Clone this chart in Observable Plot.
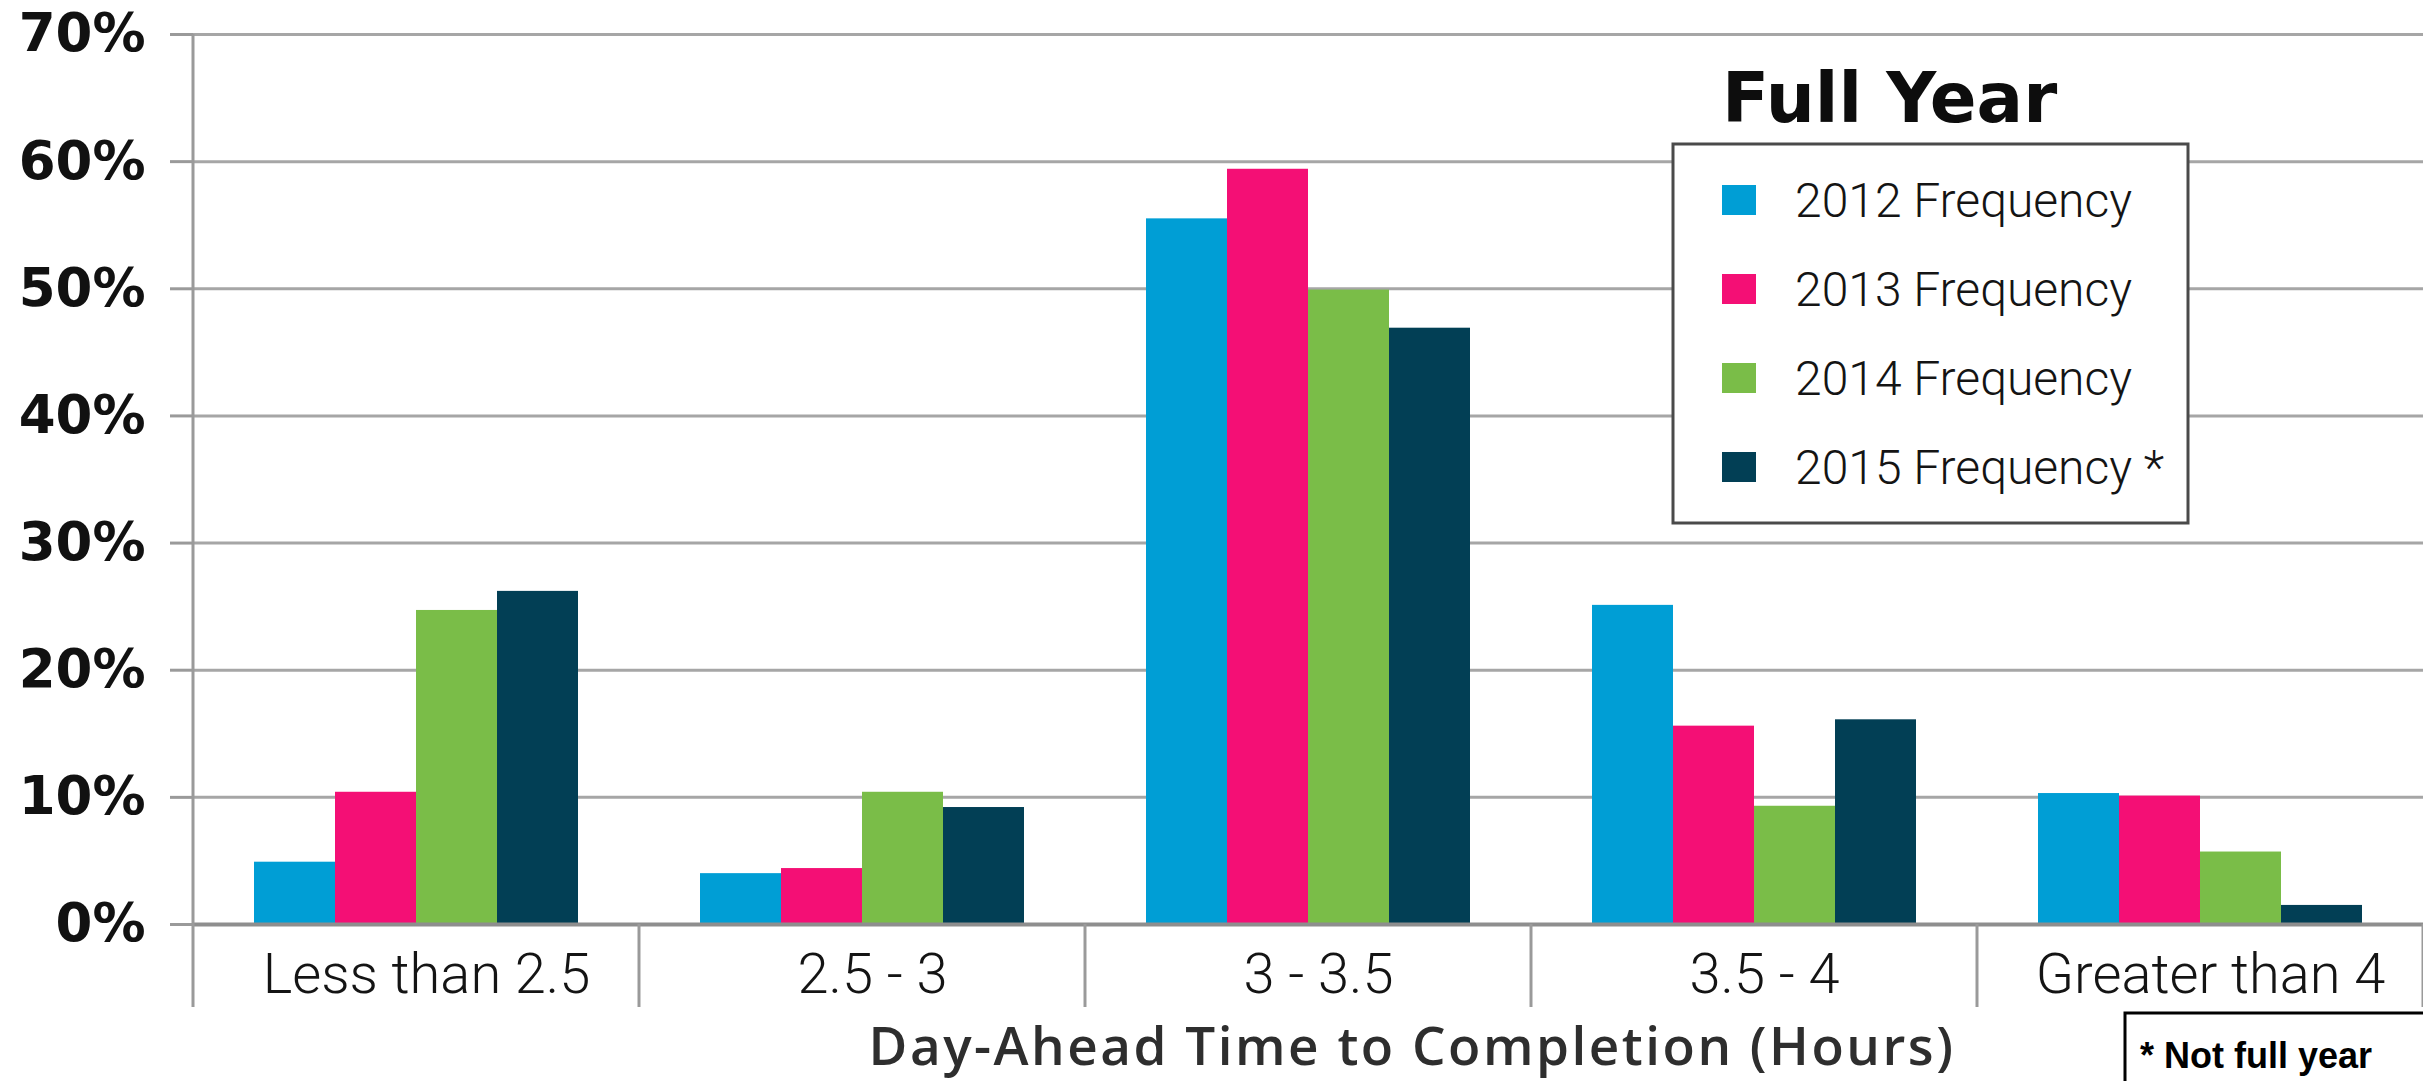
<!DOCTYPE html>
<html>
<head>
<meta charset="utf-8">
<script src="https://cdn.jsdelivr.net/npm/d3@7"></script>
<script src="https://cdn.jsdelivr.net/npm/@observablehq/plot@0.6"></script>
<style>
html, body { margin: 0; padding: 0; background: #fff; }
#wrap { position: relative; width: 2423px; height: 1081px; overflow: hidden; background: #fff; }
#wrap > svg { position: absolute; left: 0; top: 0; }
</style>
</head>
<body>
<div id="wrap"></div>
<script>
// ---- data ----
const categories = ["Less than 2.5", "2.5 - 3", "3 - 3.5", "3.5 - 4", "Greater than 4"];
const series = ["2012 Frequency", "2013 Frequency", "2014 Frequency", "2015 Frequency *"];
const colors = ["#009ED5", "#F40F75", "#7ABD48", "#023F55"];
const v2012 = [4.9, 4.0, 55.5, 25.1, 10.3];
const v2013 = [10.4, 4.4, 59.4, 15.6, 10.1];
const v2014 = [24.7, 10.4, 49.9, 9.3, 5.7];
const v2015 = [26.2, 9.2, 46.9, 16.1, 1.5];
const yTicks = [0, 10, 20, 30, 40, 50, 60, 70];
const legendTitle = "Full Year";
const xTitle = "Day-Ahead Time to Completion (Hours)";
const note = "* Not full year";

const values = [v2012, v2013, v2014, v2015];
const data = categories.flatMap((c, i) => series.map((s, j) => ({category: c, series: s, value: values[j][i]})));

const W = 2423, H = 1081;

const chart = Plot.plot({
  width: W,
  height: H,
  marginLeft: 193,
  marginRight: 0,
  marginTop: 34,
  marginBottom: 157,
  style: {background: "transparent", overflow: "visible"},
  fx: {domain: categories, padding: 0, label: null},
  x: {domain: series, paddingInner: 0, paddingOuter: 0.74, axis: null},
  y: {domain: [0, 70], label: null},
  color: {domain: series, range: colors},
  marks: [
    Plot.gridY(yTicks, {stroke: "#a6a6a6", strokeOpacity: 1, strokeWidth: 3}),
    Plot.barY(data, {fx: "category", x: "series", y: "value", fill: "series"}),
    Plot.ruleY([0], {stroke: "#8e8e8e", strokeWidth: 4}),
    Plot.axisY(yTicks, {
      tickFormat: d => d + "%", tickSize: 23, tickPadding: 25,
      stroke: "#9a9a9a", strokeWidth: 3, strokeOpacity: 1,
      fill: "#111", fontSize: 53, fontFamily: "DejaVu Sans", fontWeight: "bold", label: null
    }),
    Plot.axisFx({
      anchor: "bottom", tickSize: 0, tickPadding: 29, dx: 10,
      fill: "#141414", fontSize: 56, fontFamily: "Roboto", fontWeight: 300, label: null
    })
  ]
});

document.getElementById("wrap").appendChild(chart);

// category separators and y axis line, positioned with the plot's own scales
const fx = chart.scale("fx"), y = chart.scale("y");
const svg = d3.select(chart);
const y0 = y.apply(0), yTop = y.apply(70);
const edges = categories.map(c => fx.apply(c));
edges.push(fx.apply(categories[categories.length - 1]) + fx.bandwidth);
const sep = svg.append("g").attr("stroke", "#9a9a9a").attr("stroke-width", 3);
edges.forEach((ex, i) => {
  sep.append("line")
    .attr("x1", ex).attr("x2", ex)
    .attr("y1", i === 0 ? yTop : y0).attr("y2", y0 + 83);
});

// overlay: legend, axis title, note
const ov = d3.select("#wrap").append("svg")
  .attr("width", W).attr("height", H)
  .style("font-family", "DejaVu Sans");

ov.append("text")
  .attr("x", 1722).attr("y", 122)
  .attr("font-family", "DejaVu Sans").attr("font-weight", "bold")
  .attr("font-size", 69).attr("fill", "#0d0d0d")
  .text(legendTitle);

ov.append("rect")
  .attr("x", 1673).attr("y", 144).attr("width", 515).attr("height", 379)
  .attr("fill", "#fff").attr("stroke", "#4a4a4a").attr("stroke-width", 3);

series.forEach((s, i) => {
  const cy = 200 + i * 89;
  ov.append("rect")
    .attr("x", 1722).attr("y", cy - 15).attr("width", 34).attr("height", 30)
    .attr("fill", colors[i]);
  ov.append("text")
    .attr("x", 1795).attr("y", cy + 17)
    .attr("font-family", "Roboto").attr("font-weight", 300)
    .attr("font-size", 48).attr("fill", "#141414")
    .text(s);
});

ov.append("text")
  .attr("x", 1412).attr("y", 1065)
  .attr("text-anchor", "middle")
  .attr("font-family", "Open Sans").attr("font-weight", 600)
  .attr("font-size", 53).attr("letter-spacing", "2.5px").attr("fill", "#2e2e2e")
  .text(xTitle);

ov.append("rect")
  .attr("x", 2125).attr("y", 1013).attr("width", 400).attr("height", 200)
  .attr("fill", "#fff").attr("stroke", "#000").attr("stroke-width", 3);

ov.append("text")
  .attr("x", 2140).attr("y", 1068)
  .attr("font-family", "Liberation Sans").attr("font-weight", "bold")
  .attr("font-size", 36).attr("fill", "#000")
  .text(note);
</script>
</body>
</html>
